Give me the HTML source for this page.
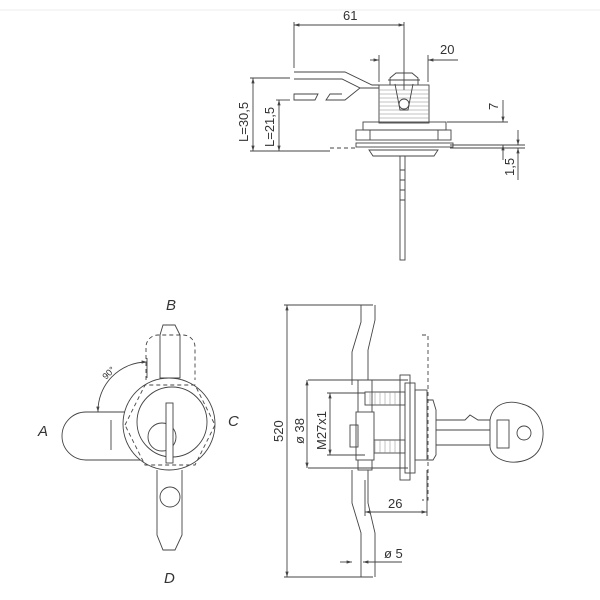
<!DOCTYPE html>
<html><head><style>body{margin:0;background:#fff}svg{display:block}text{font-family:"Liberation Sans",sans-serif;fill:#333}</style></head>
<body>
<svg width="600" height="600" viewBox="0 0 600 600" xmlns="http://www.w3.org/2000/svg">
<defs><marker id="a" viewBox="0 0 10 10" refX="10" refY="5" markerWidth="6" markerHeight="6" orient="auto-start-reverse"><path d="M0,2L10,5L0,8z" fill="#444"/></marker></defs>
<line x1="0" y1="10" x2="600" y2="10" stroke="#eee" stroke-width="1"/>
<g stroke="#444" stroke-width="0.9" fill="none">
<line x1="294" y1="22" x2="294" y2="68"/><line x1="404" y1="22" x2="404" y2="90"/>
<line x1="294" y1="25" x2="404" y2="25" marker-start="url(#a)" marker-end="url(#a)"/>
<line x1="379" y1="55" x2="379" y2="82"/><line x1="428" y1="55" x2="428" y2="82"/>
<line x1="370" y1="60" x2="379" y2="60" marker-end="url(#a)"/><line x1="458" y1="60" x2="428" y2="60" marker-end="url(#a)"/>
<line x1="250" y1="78" x2="290" y2="78"/><line x1="250" y1="151" x2="330" y2="151"/>
<line x1="253" y1="78" x2="253" y2="151" marker-start="url(#a)" marker-end="url(#a)"/>
<line x1="276" y1="100" x2="290" y2="100"/>
<line x1="279" y1="100" x2="279" y2="151" marker-start="url(#a)" marker-end="url(#a)"/>
<line x1="447" y1="122" x2="508" y2="122"/><line x1="450" y1="145" x2="525" y2="145"/><line x1="450" y1="148" x2="525" y2="148"/>
<line x1="503" y1="100" x2="503" y2="122" marker-end="url(#a)"/><line x1="503" y1="160" x2="503" y2="145" marker-end="url(#a)"/>
<line x1="518" y1="130" x2="518" y2="145" marker-end="url(#a)"/><line x1="518" y1="180" x2="518" y2="148" marker-end="url(#a)"/>
<path d="M294,72H345L372,85H379"/><path d="M294,79H342L360,88L345,100H326L330,94H342"/>
<path d="M294,94H318L315,100H294z"/><path d="M360,88H379"/>
<rect x="379" y="85" width="50" height="38"/>
<path d="M379,90H429M379,94H429M379,98H429M379,102H429M379,106H429M379,110H429M379,114H429M379,118H429" stroke="#888" stroke-width="0.6"/>
<path d="M390,85V78L396,73H412L418,78V85M388,80H420"/>
<path d="M395,84L400,110H408L413,84"/><circle cx="404" cy="104" r="5" fill="#fff"/>
<rect x="363" y="122" width="83" height="8"/><rect x="356" y="130" width="95" height="10"/>
<line x1="370" y1="130" x2="370" y2="140"/><line x1="438" y1="130" x2="438" y2="140"/>
<rect x="356" y="143" width="97" height="4"/>
<path d="M330,148H356M453,148H490" stroke-dasharray="4,3"/>
<path d="M369,150H438L434,156H373z"/>
<rect x="400" y="156" width="5" height="104"/>
<path d="M400,170H405M400,180H405M400,190H405M400,200H405"/>
<path d="M140,412H86A24,24 0 0 0 86,460H140"/>
<line x1="111" y1="420" x2="111" y2="450"/>
<path d="M98,412A49,49 0 0 1 147,362" marker-start="url(#a)" marker-end="url(#a)"/>
<line x1="147" y1="358" x2="147" y2="378"/>
<path d="M163,325H175L180,335V378H160V335z"/>
<path d="M146,380V347A12,12 0 0 1 158,335H183A12,12 0 0 1 195,347V380" stroke-dasharray="4,3"/>
<circle cx="169" cy="424" r="46" fill="#fff"/>
<circle cx="172" cy="422" r="35"/>
<path d="M125,425L145,385H195L215,425L195,465H145z" stroke-dasharray="4,3"/>
<circle cx="162" cy="437" r="14"/>
<rect x="166" y="403" width="7" height="60" fill="#fff"/>
<path d="M157,470V535L163,550H175L182,535V470"/>
<circle cx="170" cy="497" r="10"/>
<line x1="287" y1="305" x2="287" y2="577" marker-start="url(#a)" marker-end="url(#a)"/>
<line x1="284" y1="305" x2="373" y2="305"/><line x1="284" y1="577" x2="373" y2="577"/>
<path d="M361,305V322L352,352V385M375,305V320L368,350V385"/>
<path d="M352,470V503L361,533V577M368,470V503L375,533V577"/>
<rect x="358" y="380" width="14" height="90" fill="#fff"/>
<rect x="365" y="392" width="40" height="13"/><rect x="365" y="440" width="40" height="13"/>
<path d="M370,392V405M375,392V405M380,392V405M385,392V405M390,392V405M395,392V405M400,392V405M370,440V453M375,440V453M380,440V453M385,440V453M390,440V453M395,440V453M400,440V453" stroke="#888" stroke-width="0.5"/>
<rect x="356" y="412" width="18" height="48" fill="#fff"/>
<rect x="350" y="425" width="8" height="22"/>
<rect x="405" y="383" width="10" height="90"/><rect x="400" y="375" width="10" height="105"/>
<rect x="415" y="390" width="12" height="70"/>
<path d="M422,335H428V500H422" stroke-dasharray="4,3"/>
<path d="M427,400H433L436,410V455L433,460H427"/>
<path d="M436,420H465L470,415L478,420H490M436,445H490M436,430H490"/>
<path d="M490,420C493,402 510,400 522,404C540,408 548,430 540,448C533,462 512,466 498,458C492,454 490,450 490,446z" fill="#fff"/>
<circle cx="524" cy="433" r="7"/>
<rect x="497" y="420" width="12" height="28"/>
<line x1="308" y1="380" x2="408" y2="380"/><line x1="308" y1="468" x2="408" y2="468"/>
<line x1="307" y1="380" x2="307" y2="468" marker-start="url(#a)" marker-end="url(#a)"/>
<line x1="327" y1="393" x2="365" y2="393"/><line x1="327" y1="455" x2="365" y2="455"/>
<line x1="330" y1="393" x2="330" y2="455" marker-start="url(#a)" marker-end="url(#a)"/>
<line x1="427" y1="470" x2="427" y2="516"/><line x1="365" y1="480" x2="365" y2="516"/>
<line x1="365" y1="512" x2="427" y2="512" marker-start="url(#a)" marker-end="url(#a)"/>
<line x1="340" y1="562" x2="352" y2="562" marker-end="url(#a)"/><line x1="402" y1="562" x2="363" y2="562" marker-end="url(#a)"/>
</g>
<g font-size="13">
<text x="343" y="20">61</text><text x="440" y="54">20</text>
<text transform="translate(248,142) rotate(-90)">L=30,5</text>
<text transform="translate(274,147) rotate(-90)">L=21,5</text>
<text transform="translate(498,110) rotate(-90)">7</text>
<text transform="translate(514,176) rotate(-90)">1,5</text>
<text transform="translate(283,442) rotate(-90)">520</text>
<text transform="translate(304,444) rotate(-90)">ø 38</text>
<text transform="translate(326,450) rotate(-90)">M27x1</text>
<text x="388" y="508">26</text><text x="384" y="558">ø 5</text>
<text transform="translate(106,380) rotate(-45)" font-size="9">90°</text>
</g>
<g font-size="15" font-style="italic" fill="#444">
<text x="166" y="310">B</text><text x="38" y="436">A</text><text x="228" y="426">C</text><text x="164" y="583">D</text>
</g>
</svg>
</body></html>
